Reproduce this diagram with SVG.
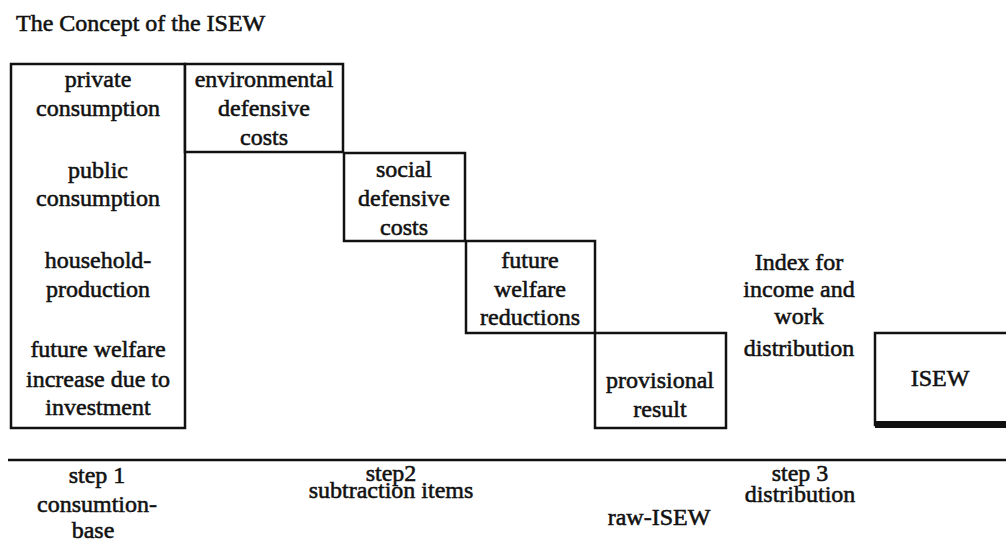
<svg xmlns="http://www.w3.org/2000/svg" width="1006" height="542" viewBox="0 0 1006 542">
<style>
  .box { fill: #fff; stroke: #111; stroke-width: 2.5; }
  .t { font-size: 24px; fill: #111; stroke: #111; stroke-width: 0.55; text-anchor: middle; }
  .title { text-anchor: start; }
  .rule { stroke: #111; stroke-width: 2.5; fill: none; }
</style>
<rect x="0" y="0" width="1006" height="542" fill="#fff"/>
<g font-family="Liberation Serif, DejaVu Serif, serif">
<text class="t title" x="16" y="31">The Concept of the ISEW</text>

<g id="consumption-base">
  <rect class="box" x="11" y="64" width="174" height="364"/>
  <text class="t" x="98" y="87">private</text>
  <text class="t" x="98" y="116">consumption</text>
  <text class="t" x="98" y="178">public</text>
  <text class="t" x="98" y="206">consumption</text>
  <text class="t" x="98" y="268">household-</text>
  <text class="t" x="98" y="297">production</text>
  <text class="t" x="98" y="357">future welfare</text>
  <text class="t" x="98" y="387">increase due to</text>
  <text class="t" x="98" y="415">investment</text>
</g>

<g id="environmental-defensive-costs">
  <rect class="box" x="185" y="64" width="158" height="88"/>
  <text class="t" x="264" y="87">environmental</text>
  <text class="t" x="264" y="116">defensive</text>
  <text class="t" x="264" y="145">costs</text>
</g>

<g id="social-defensive-costs">
  <rect class="box" x="344" y="153" width="121" height="88"/>
  <text class="t" x="404" y="177">social</text>
  <text class="t" x="404" y="206">defensive</text>
  <text class="t" x="404" y="235">costs</text>
</g>

<g id="future-welfare-reductions">
  <rect class="box" x="466" y="241" width="129" height="92"/>
  <text class="t" x="530" y="268">future</text>
  <text class="t" x="530" y="297">welfare</text>
  <text class="t" x="530" y="325">reductions</text>
</g>

<g id="provisional-result">
  <rect class="box" x="595" y="333" width="131" height="95"/>
  <text class="t" x="660" y="388">provisional</text>
  <text class="t" x="660" y="417">result</text>
</g>

<g id="index-distribution">
  <text class="t" x="799" y="270">Index for</text>
  <text class="t" x="799" y="297">income and</text>
  <text class="t" x="799" y="324">work</text>
  <text class="t" x="799" y="356">distribution</text>
</g>

<g id="isew">
  <rect class="box" x="875" y="333" width="140" height="92"/>
  <rect x="875" y="421" width="140" height="7" fill="#111"/>
  <text class="t" x="940" y="386">ISEW</text>
</g>

<g id="connectors">
  <line class="rule" x1="8" y1="460" x2="1006" y2="460"/>
</g>

<g id="step-labels">
  <text class="t" x="97" y="483">step 1</text>
  <text class="t" x="97" y="512">consumtion-</text>
  <text class="t" x="93" y="538">base</text>
  <text class="t" x="391" y="481">step2</text>
  <text class="t" x="391" y="498">subtraction items</text>
  <text class="t" x="659" y="525">raw-ISEW</text>
  <text class="t" x="800" y="481">step 3</text>
  <text class="t" x="800" y="502">distribution</text>
</g>
</g>
</svg>
